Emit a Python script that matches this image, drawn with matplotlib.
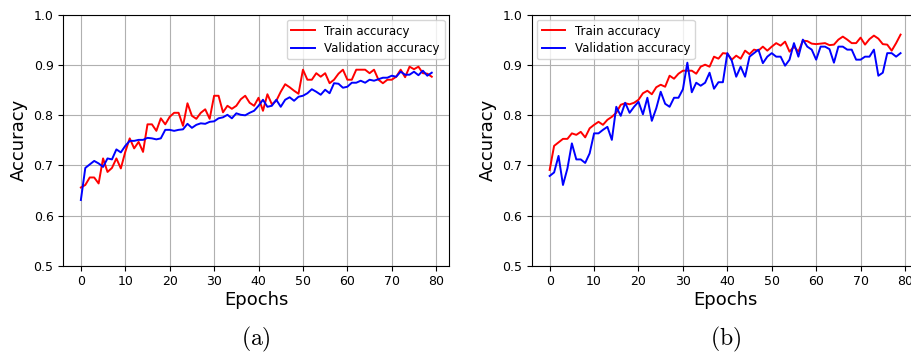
import matplotlib
matplotlib.use("Agg")
import matplotlib.pyplot as plt

plt.rcParams['mathtext.fontset'] = 'cm'

epochs = list(range(80))

# (a)
train_a = [0.656, 0.661, 0.676, 0.676, 0.664, 0.714, 0.687, 0.695, 0.714, 0.694,
           0.727, 0.754, 0.734, 0.747, 0.727, 0.782, 0.782, 0.769, 0.794, 0.782,
           0.797, 0.805, 0.805, 0.779, 0.824, 0.799, 0.793, 0.805, 0.812, 0.793,
           0.839, 0.839, 0.806, 0.819, 0.813, 0.819, 0.832, 0.839, 0.825, 0.819,
           0.835, 0.809, 0.842, 0.822, 0.829, 0.847, 0.862, 0.856, 0.849, 0.843,
           0.891, 0.871, 0.871, 0.884, 0.877, 0.884, 0.864, 0.871, 0.883, 0.891,
           0.871, 0.871, 0.891, 0.891, 0.891, 0.884, 0.891, 0.871, 0.864, 0.871,
           0.871, 0.877, 0.891, 0.876, 0.897, 0.892, 0.897, 0.884, 0.883, 0.877]
val_a = [0.631, 0.695, 0.702, 0.709, 0.704, 0.697, 0.714, 0.712, 0.732, 0.726,
         0.739, 0.749, 0.749, 0.751, 0.751, 0.755, 0.754, 0.752, 0.754, 0.771,
         0.771, 0.769, 0.771, 0.772, 0.783, 0.775, 0.781, 0.784, 0.783, 0.787,
         0.788, 0.794, 0.796, 0.801, 0.794, 0.804, 0.801, 0.800, 0.805, 0.809,
         0.819, 0.831, 0.817, 0.819, 0.831, 0.817, 0.831, 0.836, 0.829, 0.837,
         0.839, 0.844, 0.852, 0.847, 0.841, 0.851, 0.844, 0.864, 0.863, 0.855,
         0.857, 0.865, 0.865, 0.869, 0.865, 0.871, 0.869, 0.872, 0.875, 0.875,
         0.879, 0.877, 0.887, 0.881, 0.881, 0.887, 0.880, 0.889, 0.879, 0.885]

# (b)
train_b = [0.691, 0.739, 0.746, 0.753, 0.753, 0.764, 0.761, 0.767, 0.756, 0.774,
           0.781, 0.787, 0.781, 0.791, 0.797, 0.805, 0.821, 0.824, 0.822, 0.825,
           0.831, 0.844, 0.849, 0.842, 0.856, 0.861, 0.857, 0.879, 0.873, 0.883,
           0.889, 0.889, 0.889, 0.883, 0.897, 0.901, 0.897, 0.917, 0.913, 0.924,
           0.923, 0.911, 0.919, 0.913, 0.929, 0.922, 0.931, 0.929, 0.937, 0.929,
           0.937, 0.944, 0.939, 0.947, 0.927, 0.937, 0.927, 0.949, 0.948, 0.943,
           0.942, 0.943, 0.944, 0.940, 0.941, 0.951, 0.957, 0.951, 0.944, 0.944,
           0.955, 0.941, 0.952, 0.959, 0.953, 0.942, 0.941, 0.929, 0.944, 0.961]
val_b = [0.679, 0.686, 0.719, 0.661, 0.694, 0.744, 0.712, 0.712, 0.705, 0.724,
         0.764, 0.764, 0.771, 0.777, 0.751, 0.817, 0.799, 0.825, 0.805, 0.817,
         0.827, 0.802, 0.835, 0.789, 0.814, 0.847, 0.823, 0.817, 0.835, 0.835,
         0.852, 0.905, 0.846, 0.865, 0.859, 0.865, 0.885, 0.853, 0.866, 0.866,
         0.924, 0.909, 0.877, 0.897, 0.877, 0.917, 0.924, 0.931, 0.904, 0.917,
         0.924, 0.917, 0.917, 0.899, 0.911, 0.944, 0.917, 0.951, 0.937, 0.931,
         0.911, 0.937, 0.937, 0.932, 0.905, 0.937, 0.937, 0.931, 0.931, 0.911,
         0.911, 0.917, 0.917, 0.931, 0.879, 0.885, 0.924, 0.924, 0.917, 0.924]

fig = plt.figure(figsize=(9.11, 3.56), dpi=100)
ax1 = fig.add_axes([0.0695, 0.2537, 0.4237, 0.704])
ax2 = fig.add_axes([0.5841, 0.2537, 0.4237, 0.704])

panels = [(ax1, train_a, val_a, 'upper right', '(a)'),
          (ax2, train_b, val_b, 'upper left', '(b)')]

for ax, tr, va, loc, tag in panels:
    ax.plot(epochs, tr, color='red', lw=1.4, label='Train accuracy')
    ax.plot(epochs, va, color='blue', lw=1.4, label='Validation accuracy')
    ax.set_ylim(0.5, 1.0)
    ax.set_xticks(range(0, 81, 10))
    ax.set_yticks([0.5, 0.6, 0.7, 0.8, 0.9, 1.0])
    ax.tick_params(labelsize=9)
    ax.grid(True)
    ax.set_xlabel('Epochs', fontsize=13, labelpad=2)
    ax.set_ylabel('Accuracy', fontsize=13)
    ax.legend(loc=loc, fontsize=8.5, borderaxespad=0.4, labelspacing=0.35)
    ax.text(0.5, -0.296, r'$\mathrm{' + tag + '}$', transform=ax.transAxes,
            ha='center', va='center', fontsize=17)

fig.savefig('out.png', dpi=100)
